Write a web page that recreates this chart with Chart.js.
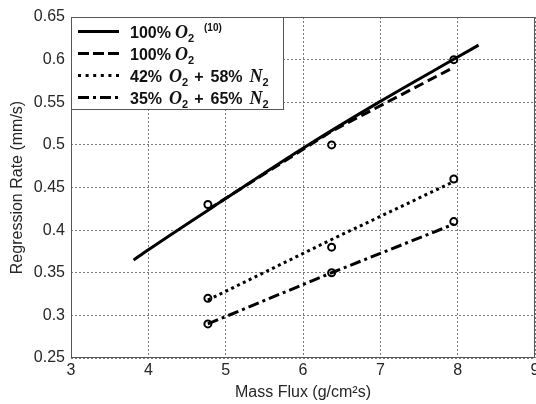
<!DOCTYPE html>
<html>
<head>
<meta charset="utf-8">
<script src="https://cdn.jsdelivr.net/npm/chart.js@4.4.1/dist/chart.umd.min.js"></script>
<style>
  html, body { margin: 0; padding: 0; background: #fff; }
</style>
</head>
<body>
<canvas id="chart" width="536" height="404"></canvas>
<script>
// reference curve, 100% O2 (ref. 10)
const refFlux = [3.81, 4, 5, 6, 7, 8, 8.27];
const refRate = [0.365, 0.377, 0.437, 0.496, 0.551, 0.603, 0.617];

// test points
const testFlux = [4.77, 6.37, 7.95];
const rate100 = [0.43, 0.50, 0.60];
const rate42 = [0.32, 0.38, 0.46];
const rate35 = [0.29, 0.35, 0.41];

// fitted lines through the tests
const fit100 = [0.424, 0.516, 0.591];
const fit42 = [0.318, 0.389, 0.457];
const fit35 = [0.290, 0.350, 0.407];

const xTicks = [3, 4, 5, 6, 7, 8, 9];
const yTicks = [0.25, 0.3, 0.35, 0.4, 0.45, 0.5, 0.55, 0.6, 0.65];

const sans = '"Liberation Sans", Arial, sans-serif';

// legend rows: [text, kind, gap before]
const legendRows = [
  { dash: [], runs: [['100%', 'b', 0], ['O', 'm', 4], ['2', 'sub', 0], ['(10)', 'sup', 10]] },
  { dash: [11, 4], runs: [['100%', 'b', 0], ['O', 'm', 4], ['2', 'sub', 0]] },
  { dash: [3, 4.6], runs: [['42%', 'b', 0], ['O', 'm', 7], ['2', 'sub', 0], ['+', 'b', 6], ['58%', 'b', 7], ['N', 'm', 7], ['2', 'sub', 0]] },
  { dash: [11, 4, 3, 4], runs: [['35%', 'b', 0], ['O', 'm', 7], ['2', 'sub', 0], ['+', 'b', 6], ['65%', 'b', 7], ['N', 'm', 7], ['2', 'sub', 0]] }
];

const runFonts = {
  b: { font: 'bold 16px ' + sans, dy: 0 },
  m: { font: 'italic bold 18px "Liberation Serif", serif', dy: 0 },
  sub: { font: 'bold 11px ' + sans, dy: 4 },
  sup: { font: 'bold 10px ' + sans, dy: -7 }
};

const pts = (xs, ys) => xs.map((x, i) => ({ x, y: ys[i] }));

function lineSet(data, dash, extra) {
  return Object.assign({
    data,
    showLine: true,
    borderColor: '#000',
    borderWidth: 3,
    borderDash: dash,
    borderCapStyle: 'butt',
    pointRadius: 0,
    pointHoverRadius: 0,
    fill: false,
    order: 1
  }, extra || {});
}

function markerSet(data) {
  return {
    data,
    showLine: false,
    pointRadius: 3.5,
    pointBorderWidth: 2,
    pointBorderColor: '#000',
    pointBackgroundColor: 'rgba(0,0,0,0)',
    order: 0
  };
}

// box around the plot
const frame = {
  id: 'frame',
  afterDatasetsDraw(chart) {
    const { ctx, chartArea: a } = chart;
    ctx.save();
    ctx.strokeStyle = '#555';
    ctx.lineWidth = 1;
    ctx.strokeRect(a.left + 0.5, a.top + 0.5, a.right - a.left - 1, a.bottom - a.top - 1);
    ctx.restore();
  }
};

// legend in the top left corner
const boxLegend = {
  id: 'boxLegend',
  afterDraw(chart) {
    const { ctx, chartArea: a } = chart;
    const w = 212, h = 92;
    ctx.save();
    ctx.fillStyle = '#fff';
    ctx.fillRect(a.left, a.top, w, h);
    ctx.strokeStyle = '#555';
    ctx.lineWidth = 1;
    ctx.strokeRect(a.left + 0.5, a.top + 0.5, w, h);

    legendRows.forEach((row, i) => {
      const base = a.top + 20.5 + i * 22.2;
      const ly = Math.round(base - 7) + 0.5;
      ctx.strokeStyle = '#000';
      ctx.lineWidth = 3;
      ctx.lineCap = 'butt';
      ctx.setLineDash(row.dash);
      ctx.beginPath();
      ctx.moveTo(a.left + 7, ly);
      ctx.lineTo(a.left + 48, ly);
      ctx.stroke();
      ctx.setLineDash([]);

      let x = a.left + 59;
      ctx.fillStyle = '#111';
      ctx.textBaseline = 'alphabetic';
      row.runs.forEach(([t, kind, gap]) => {
        const f = runFonts[kind];
        x += gap;
        ctx.font = f.font;
        ctx.fillText(t, x, base + f.dy);
        x += ctx.measureText(t).width;
      });
    });
    ctx.restore();
  }
};

new Chart(document.getElementById('chart'), {
  type: 'scatter',
  data: {
    datasets: [
      lineSet(pts(refFlux, refRate), [], { cubicInterpolationMode: 'monotone' }),
      lineSet(pts(testFlux, fit100), [10, 5]),
      lineSet(pts(testFlux, fit42), [3, 3.5]),
      lineSet(pts(testFlux, fit35), [11, 4, 3, 4]),
      markerSet(pts(testFlux, rate100)),
      markerSet(pts(testFlux, rate42)),
      markerSet(pts(testFlux, rate35))
    ]
  },
  options: {
    responsive: false,
    animation: false,
    devicePixelRatio: 1,
    layout: { autoPadding: false, padding: { top: 17, right: 1, bottom: 0, left: 0 } },
    plugins: {
      legend: { display: false },
      tooltip: { enabled: false }
    },
    scales: {
      x: {
        type: 'linear',
        min: 3,
        max: 9,
        afterBuildTicks: s => { s.ticks = xTicks.map(v => ({ value: v })); },
        afterFit: s => { s.height = 46; s.paddingLeft = 0; s.paddingRight = 0; },
        ticks: {
          autoSkip: false,
          maxRotation: 0,
          padding: 3,
          color: '#262626',
          font: { family: sans, size: 16 }
        },
        grid: { color: '#7a7a7a', lineWidth: 1, drawTicks: false },
        border: { display: false, dash: [2, 2] },
        title: {
          display: true,
          text: 'Mass Flux (g/cm²s)',
          color: '#262626',
          font: { family: sans, size: 16 },
          padding: { top: 0, bottom: 2 }
        }
      },
      y: {
        min: 0.25,
        max: 0.65,
        afterBuildTicks: s => { s.ticks = yTicks.map(v => ({ value: v })); },
        afterFit: s => { s.width = 71; s.paddingTop = 0; s.paddingBottom = 0; },
        ticks: {
          autoSkip: false,
          padding: 6,
          color: '#262626',
          font: { family: sans, size: 16 },
          callback: v => String(+v.toFixed(2))
        },
        grid: { color: '#7a7a7a', lineWidth: 1, drawTicks: false },
        border: { display: false, dash: [2, 2] },
        title: {
          display: true,
          text: 'Regression Rate (mm/s)',
          color: '#262626',
          font: { family: sans, size: 16 },
          padding: { top: 8, bottom: 0 }
        }
      }
    }
  },
  plugins: [frame, boxLegend]
});
</script>
</body>
</html>
